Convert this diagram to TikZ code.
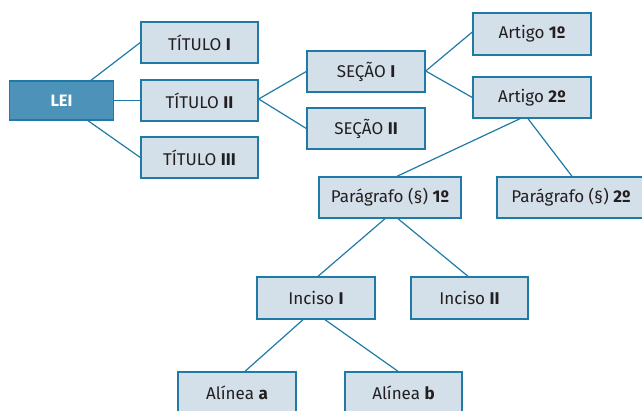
\documentclass[tikz,border=0pt]{standalone}
\usepackage{fontspec}
\setmainfont{Fira Sans}[Ligatures=NoCommon]
\usetikzlibrary{calc}
\definecolor{boxfill}{HTML}{D3DFE9}
\definecolor{boxline}{HTML}{1F7AA6}
\definecolor{leifill}{HTML}{4D93B9}
\definecolor{txt}{HTML}{231F20}
\tikzset{
  box/.style={draw=boxline, line width=1.4pt, fill=boxfill, minimum width=117pt, minimum height=41pt, inner sep=0pt, text=txt, font=\fontsize{17}{19}\selectfont},
  leibox/.style={box, fill=leifill, minimum width=104pt, minimum height=39pt, text=white, font=\fontsize{16.5}{18}\selectfont\bfseries},
  link/.style={draw=boxline, line width=1.2pt}
}
\begin{document}
\begin{tikzpicture}[x=1pt,y=-1pt]
\useasboundingbox (0,0) rectangle (642,410);
% nodes
\node[leibox] (lei) at (61.5,100.5) {LEI};
\node[box] (t1) at (199.5,42.5) {TÍTULO \textbf{I}};
\node[box] (t2) at (199.5,100.5) {TÍTULO \textbf{II}};
\node[box] (t3) at (199.5,157.5) {TÍTULO \textbf{III}};
\node[box, minimum width=118pt] (s1) at (366,71.5) {SEÇÃO \textbf{I}};
\node[box, minimum width=118pt] (s2) at (366,128.5) {SEÇÃO \textbf{II}};
\node[box, minimum width=118pt, minimum height=42pt] (a1) at (532,34) {Artigo \textbf{1º}};
\node[box, minimum width=118pt] (a2) at (532,97.5) {Artigo \textbf{2º}};
\node[box, minimum width=142pt] (p1) at (390,197.5) {Parágrafo (§) \textbf{1º}};
\node[box, minimum width=148pt] (p2) at (571,197.5) {Parágrafo (§) \textbf{2º}};
\node[box, minimum width=118pt, minimum height=42pt] (i1) at (316,298) {Inciso \textbf{I}};
\node[box, minimum width=117pt, minimum height=42pt] (i2) at (469.5,298) {Inciso \textbf{II}};
\node[box, minimum width=118pt] (la) at (237,392.5) {Alínea \textbf{a}};
\node[box, minimum width=117pt] (lb) at (403.5,392.5) {Alínea \textbf{b}};
% connectors
\draw[link] ([xshift=29.5pt]lei.north) -- (t1.west);
\draw[link] (lei.east) -- (t2.west);
\draw[link] ([xshift=26.5pt]lei.south) -- (t3.west);
\draw[link] ([yshift=1.5pt]t2.east) -- (s1.west);
\draw[link] ([yshift=1.5pt]t2.east) -- (s2.west);
\draw[link] ([yshift=0.5pt]s1.east) -- ([yshift=2pt]a1.west);
\draw[link] ([yshift=0.5pt]s1.east) -- (a2.west);
\draw[link] ([xshift=-12pt]a2.south) -- ([xshift=7pt]p1.north);
\draw[link] ([xshift=-4pt]a2.south) -- ([xshift=1pt]p2.north);
\draw[link] ([xshift=-5pt]p1.south) -- ([xshift=2pt]i1.north);
\draw[link] ([xshift=8pt]p1.south) -- ([xshift=-1.5pt]i2.north);
\draw[link] ([xshift=-13pt]i1.south) -- ([xshift=8pt]la.north);
\draw[link] ([xshift=9pt]i1.south) -- ([xshift=-5.5pt]lb.north);
\end{tikzpicture}
\end{document}
